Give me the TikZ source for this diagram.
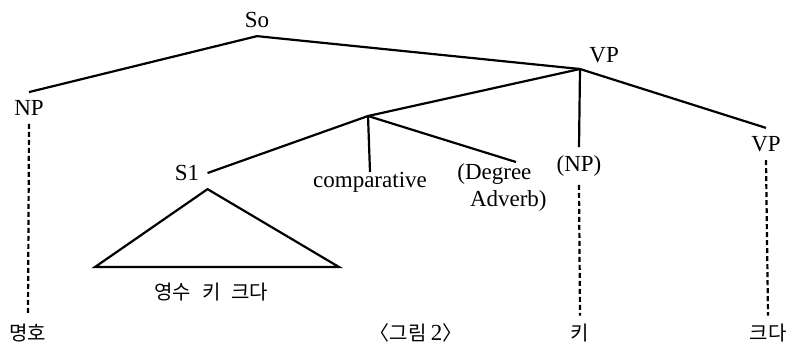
\documentclass[tikz,border=0pt]{standalone}
\usepackage{fontspec}
\setmainfont{Liberation Serif}
\newfontfamily\kr{Noto Sans CJK KR}
\usepackage{tikz}

\begin{document}
\begin{tikzpicture}[x=0.5pt,y=-0.5pt,
  lbl/.style={inner sep=4pt,font=\fontsize{11.5}{13.5}\selectfont},
  kor/.style={inner sep=4pt,font=\kr\fontsize{10}{12}\selectfont},
  branch/.style={line width=1.1pt},
  trace/.style={line width=1.1pt,dash pattern=on 2.5pt off 1.5pt}]
\useasboundingbox (0,0) rectangle (791,345);
% categories
\node[lbl] (so) at (257,20) {So};
\node[lbl] (np) at (29,108) {NP};
\node[lbl,anchor=south west,inner sep=2pt] (vp) at (585,67) {VP};
\coordinate (vp-b) at (580,69);
\coordinate (mid) at (368,116);
\node[lbl] (s1) at (187,173) {S1};
\node[lbl,inner sep=0pt,anchor=north] (comp) at (370,172) {comparative};
\coordinate (deg-t) at (516,162);
\node[lbl,inner sep=0pt,align=left] (deg) at (502,187) {(Degree\\\hspace{.55em}Adverb)};
\node[lbl] (np2) at (579,166) {(NP)};
\node[lbl] (vp2) at (766,144) {VP};
% triangle under S1
\coordinate (tri-l) at (95,267);
\coordinate (tri-r) at (339,267);
\node[kor] (s1txt) at (211,292) {영수\hspace{.6em}키\hspace{.5em}크다};
% leaves
\node[kor] (mh) at (28,333) {명호};
\node[kor] (ki) at (580,333) {키};
\node[kor] (kd) at (768,333) {크다};
\node[kor] (cap) at (416,333) {〈그림 {\rmfamily\fontsize{11.5}{13.5}\selectfont 2}〉};
% branches
\draw[branch] (np.north) -- (so.south) -- (vp-b);
\draw[branch] (vp-b) -- (mid);
\draw[branch] (vp-b) -- (np2.north);
\draw[branch] (vp-b) -- (vp2.north);
\draw[branch] (s1.east) -- (mid) -- (deg-t);
\draw[branch] (mid) -- (comp.north);
\draw[branch] (s1.south east) -- (tri-l) -- (tri-r) -- cycle;
% dashed traces
\draw[trace] (np.south) -- (mh.north);
\draw[trace] (np2.south) -- (ki.north);
\draw[trace] (vp2.south) -- (kd.north);
\end{tikzpicture}
\end{document}
